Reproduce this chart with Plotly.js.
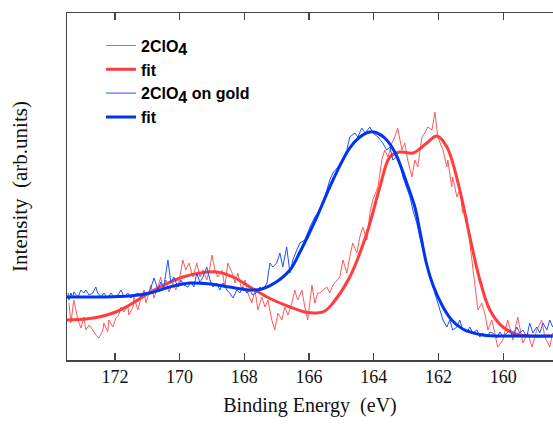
<!DOCTYPE html>
<html>
<head>
<meta charset="utf-8">
<script src="https://cdn.plot.ly/plotly-3.0.1.min.js"></script>
<style>html,body{margin:0;padding:0;background:#fff;}#chart{width:553px;height:424px;}</style>
</head>
<body>
<div id="chart"></div>
<script>
// Binding energy (eV) and intensity (arb. units)
const redRawE = [173.42,173.36,173.27,173.14,173.05,172.96,172.90,172.80,172.68,172.59,172.49,172.37,172.34,172.22,172.19,172.06,171.97,171.88,171.81,171.72,171.60,171.57,171.44,171.41,171.29,171.20,171.10,171.04,170.95,170.89,170.79,170.67,170.58,170.52,170.42,170.33,170.21,170.12,170.02,169.90,169.81,169.71,169.59,169.50,169.47,169.37,169.28,169.16,169.06,169.00,168.91,168.82,168.69,168.60,168.51,168.38,168.29,168.20,168.08,167.98,167.89,167.77,167.67,167.58,167.46,167.36,167.27,167.15,167.06,166.96,166.84,166.75,166.65,166.53,166.44,166.35,166.22,166.13,166.04,165.91,165.82,165.73,165.67,165.45,165.36,165.26,165.05,164.95,164.83,164.74,164.65,164.52,164.43,164.34,164.21,164.12,164.03,163.87,163.75,163.66,163.56,163.44,163.35,163.26,163.13,163.04,162.95,162.82,162.73,162.64,162.51,162.42,162.33,162.20,162.11,162.02,161.86,161.74,161.71,161.59,161.56,161.43,161.34,161.25,161.12,161.03,160.94,160.78,160.66,160.57,160.47,160.35,160.26,160.17,160.01,159.86,159.70,159.55,159.39,159.24,159.11,158.96,158.81,158.71,158.56,158.47];
const redRawI = [57,37,60,40,32,43,30,35,30,25,22,30,37,28,40,33,42,45,53,48,55,45,53,63,50,62,70,57,67,75,62,73,83,70,80,68,77,70,78,100,90,97,83,93,97,83,90,80,93,105,90,83,90,73,97,87,77,87,70,80,67,57,70,50,63,53,60,40,30,47,40,53,45,57,70,60,70,53,40,75,57,67,67,73,67,75,83,100,87,103,117,107,123,133,120,147,160,173,200,210,203,217,223,232,210,217,200,183,200,193,223,227,233,230,248,223,210,193,200,173,183,163,170,147,143,117,93,50,57,47,30,40,27,13,20,40,20,43,17,27,13,30,40,23,13,27];

const redFitE = [173.48,172.90,172.49,171.97,171.44,170.95,170.42,169.90,169.37,168.85,168.35,167.83,167.30,166.59,166.13,165.76,165.51,165.26,164.74,164.21,163.81,163.50,163.19,162.79,162.36,162.05,161.74,161.34,161.03,160.72,160.41,160.01,159.49,158.47];
const redFitI = [40,41,43,48,57,67,76,83,87,88,83,73,63,53,48,47,49,57,83,127,173,203,208,207,217,224,213,170,123,80,50,33,25,24];

const blueRawE = [173.45,173.42,173.36,173.30,173.27,173.14,173.05,172.96,172.90,172.80,172.68,172.59,172.53,172.43,172.34,172.22,172.12,172.03,171.91,171.81,171.72,171.60,171.51,171.41,171.29,171.20,171.10,170.98,170.89,170.79,170.67,170.58,170.49,170.36,170.27,170.18,170.05,169.96,169.87,169.74,169.65,169.56,169.47,169.37,169.28,169.16,169.06,168.97,168.85,168.76,168.66,168.54,168.45,168.35,168.23,168.14,168.04,167.92,167.83,167.74,167.61,167.52,167.43,167.30,167.21,167.12,167.00,166.90,166.81,166.69,166.59,166.50,166.38,166.28,166.13,165.97,165.82,165.67,165.51,165.36,165.26,165.11,164.99,164.83,164.74,164.58,164.49,164.37,164.27,164.12,164.03,163.87,163.72,163.60,163.50,163.41,163.29,163.19,163.10,162.98,162.88,162.79,162.67,162.58,162.48,162.36,162.27,162.17,162.05,161.96,161.86,161.74,161.65,161.56,161.43,161.34,161.25,161.12,161.03,160.94,160.81,160.72,160.63,160.51,160.41,160.32,160.20,160.10,160.01,159.89,159.79,159.70,159.58,159.49,159.39,159.27,159.18,159.08,158.96,158.87,158.77,158.65,158.56,158.47];
const blueRawI = [67,60,67,62,68,63,70,67,70,65,67,73,67,63,67,62,67,63,65,70,63,67,62,65,67,63,67,65,72,82,70,78,73,100,77,83,73,80,75,73,78,73,87,77,83,93,80,73,77,70,77,70,67,62,70,67,73,67,70,65,68,73,70,77,97,93,97,107,93,113,87,100,110,117,120,133,143,150,163,180,187,193,200,210,223,227,223,232,227,233,227,223,217,210,213,200,203,197,183,173,163,150,137,123,110,97,83,73,60,50,40,33,40,30,33,40,30,28,33,27,30,23,27,23,28,27,22,28,23,27,30,23,33,27,30,23,37,27,33,27,37,30,40,33];

const blueFitE = [173.48,172.46,171.54,170.92,170.30,169.68,169.06,168.45,167.83,167.46,167.06,166.59,166.28,165.76,165.26,164.74,164.43,164.12,163.90,163.66,163.35,162.98,162.73,162.58,162.36,162.17,161.86,161.59,161.25,160.63,159.79,158.47];
const blueFitI = [63,63,64,67,73,77,76,73,70,71,77,90,108,143,180,212,223,228,227,222,208,177,153,130,95,75,53,40,31,25,24,24];

const xTicks = [172,170,168,166,164,162,160];
const names = ['2ClO<sub><span style="font-size:16px">4</span></sub>','fit','2ClO<sub><span style="font-size:16px">4</span></sub> on gold','fit'];

const serif = 'Liberation Serif, DejaVu Serif, serif';
const traces = [
  {x: redRawE, y: redRawI, name: names[0], mode: 'lines', line: {color: '#ff5a5a', width: 1}},
  {x: redFitE, y: redFitI, name: names[1], mode: 'lines', line: {color: '#ff3d3d', width: 3, shape: 'spline', smoothing: 1}},
  {x: blueRawE, y: blueRawI, name: names[2], mode: 'lines', line: {color: '#1f4fff', width: 1}},
  {x: blueFitE, y: blueFitI, name: names[3], mode: 'lines', line: {color: '#0035f0', width: 3, shape: 'spline', smoothing: 1}}
];

const layout = {
  width: 553, height: 424,
  margin: {l: 67, r: 0, t: 13, b: 64},
  paper_bgcolor: '#fff', plot_bgcolor: '#fff',
  showlegend: true,
  legend: {x: 0.07, y: 0.955, xanchor: 'left', yanchor: 'top', bgcolor: 'rgba(0,0,0,0)',
           font: {family: 'Liberation Sans, Arial, sans-serif', size: 16, color: '#000', weight: 'bold'},
           itemwidth: 30, tracegroupgap: 0},
  xaxis: {
    range: [173.48, 158.46], tickvals: xTicks, ticktext: xTicks.map(String),
    ticks: 'inside', ticklen: 7, tickwidth: 1.3, tickcolor: '#444',
    showline: true, linecolor: '#444', linewidth: 1.5, mirror: 'ticks',
    showgrid: false, zeroline: false,
    tickfont: {family: serif, size: 18, color: '#111'},
    title: {text: 'Binding Energy\u00a0 (eV)', standoff: 12, font: {family: serif, size: 20, color: '#111'}}
  },
  yaxis: {
    range: [0, 347], showticklabels: false, ticks: '',
    showline: true, linecolor: '#444', linewidth: 1.5,
    showgrid: false, zeroline: false,
    title: {text: 'Intensity\u00a0 (arb.units)', standoff: 32, font: {family: serif, size: 21, color: '#111'}}
  }
};

Plotly.newPlot('chart', traces, layout, {displayModeBar: false, staticPlot: true});
</script>
</body>
</html>
